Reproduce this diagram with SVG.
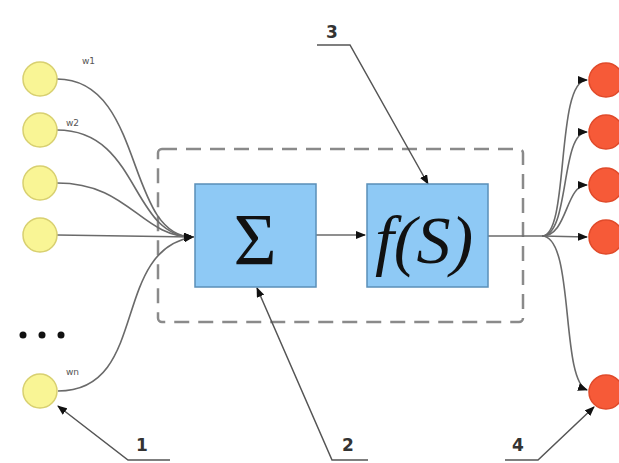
<svg xmlns="http://www.w3.org/2000/svg" width="619" height="463" viewBox="0 0 619 463">
<style>
.in{fill:#f9f595;stroke:#d8d070;stroke-width:1.5}
.out{fill:#f65a38;stroke:#e04a2a;stroke-width:1.5}
.box{fill:#8ec9f5;stroke:#5a8fb8;stroke-width:1.5}
.wire{fill:none;stroke:#6a6a6a;stroke-width:1.6}
.lead{fill:none;stroke:#555;stroke-width:1.5}
.num{font-family:"DejaVu Sans",sans-serif;font-size:17px;font-weight:bold;fill:#333;text-anchor:middle}
.w{font-family:"DejaVu Sans",sans-serif;font-size:9px;fill:#555}
.dash{fill:none;stroke:#8a8a8a;stroke-width:2.5;stroke-dasharray:15,9}
</style>
<defs>
<marker id="ah" markerWidth="10" markerHeight="8" refX="9" refY="4" orient="auto" markerUnits="userSpaceOnUse">
<path d="M0,0 L10,4 L0,8 Z" fill="#111"/>
</marker>
</defs>
<rect width="619" height="463" fill="#fff"/>
<rect id="border" class="dash" x="158" y="149" width="365" height="173" rx="4"/>
<g id="connectors">
<path class="wire" d="M57,79 C145,79 125,237 193,237" marker-end="url(#ah)"/>
<path class="wire" d="M57,130 C140,130 130,237 193,237" marker-end="url(#ah)"/>
<path class="wire" d="M57,183 C130,183 140,237 193,237" marker-end="url(#ah)"/>
<path class="wire" d="M57,235 L193,237" marker-end="url(#ah)"/>
<path class="wire" d="M58,391 C150,391 110,250 193,237" marker-end="url(#ah)"/>
<path class="wire" d="M316,235 L365,235" marker-end="url(#ah)"/>
<path class="wire" d="M488,236 L542,236"/>
<path class="wire" d="M542,236 C570,236 555,80 587,80" marker-end="url(#ah)"/>
<path class="wire" d="M542,236 C570,236 560,132 587,132" marker-end="url(#ah)"/>
<path class="wire" d="M542,236 C568,236 565,185 587,185" marker-end="url(#ah)"/>
<path class="wire" d="M542,236 L587,237" marker-end="url(#ah)"/>
<path class="wire" d="M542,236 C575,236 560,380 587,390" marker-end="url(#ah)"/>
<path class="lead" d="M317,45 L350,45 L428,184" marker-end="url(#ah)"/>
<path class="lead" d="M170,460 L128,460 L58,406" marker-end="url(#ah)"/>
<path class="lead" d="M368,460 L332,460 L257,288" marker-end="url(#ah)"/>
<path class="lead" d="M505,460 L538,460 L594,407" marker-end="url(#ah)"/>
</g>
<g id="in1"><circle class="in" cx="40" cy="79" r="17"/><text class="w" x="82" y="64">w1</text></g>
<g id="in2"><circle class="in" cx="40" cy="130" r="17"/><text class="w" x="66" y="126">w2</text></g>
<g id="in3"><circle class="in" cx="40" cy="183" r="17"/></g>
<g id="in4"><circle class="in" cx="40" cy="235" r="17"/></g>
<g id="dots"><circle cx="23" cy="335" r="3.5" fill="#111"/><circle cx="42" cy="335" r="3.5" fill="#111"/><circle cx="61" cy="335" r="3.5" fill="#111"/></g>
<g id="inn"><circle class="in" cx="40" cy="391" r="17"/><text class="w" x="66" y="375">wn</text></g>
<g id="sum"><rect class="box" x="195" y="184" width="121" height="103"/><text x="255" y="265" font-family="'Liberation Serif',serif" font-size="74" text-anchor="middle" fill="#111">Σ</text></g>
<g id="act"><rect class="box" x="367" y="184" width="121" height="103"/><text x="424" y="263" font-family="'Liberation Serif',serif" font-style="italic" font-size="68" text-anchor="middle" fill="#111">f(S)</text></g>
<g id="out1"><circle class="out" cx="606" cy="80" r="17"/></g>
<g id="out2"><circle class="out" cx="606" cy="132" r="17"/></g>
<g id="out3"><circle class="out" cx="606" cy="185" r="17"/></g>
<g id="out4"><circle class="out" cx="606" cy="237" r="17"/></g>
<g id="outn"><circle class="out" cx="606" cy="392" r="17"/></g>
<g id="labels">
<text class="num" x="332" y="38">3</text>
<text class="num" x="142" y="451">1</text>
<text class="num" x="348" y="451">2</text>
<text class="num" x="518" y="451">4</text>
</g>
</svg>
